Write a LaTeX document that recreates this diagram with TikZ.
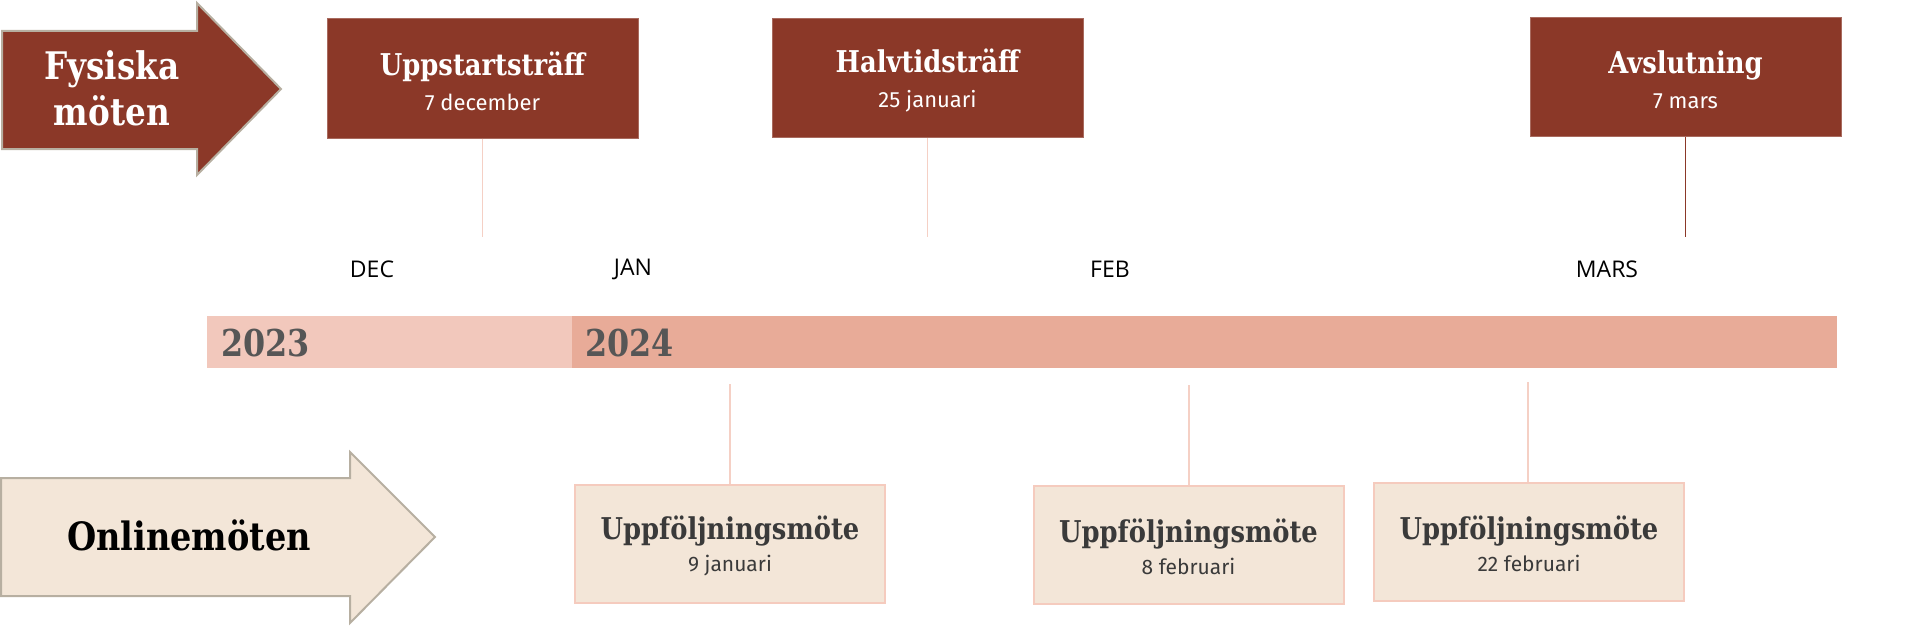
\documentclass[tikz,border=0pt]{standalone}
\usepackage{fontspec}
\setmainfont{Fira Sans}
\newfontfamily\slabfont[FakeStretch=0.86]{DejaVu Serif}
\newfontfamily\monthfont{Open Sans}
\usetikzlibrary{positioning,calc}

\definecolor{rust}{HTML}{8B3828}
\definecolor{blush}{HTML}{F5D0C5}
\definecolor{barold}{HTML}{F2C8BC}
\definecolor{barnew}{HTML}{E8AB98}
\definecolor{sand}{HTML}{F3E6D8}
\definecolor{sandedge}{HTML}{F5CBBE}
\definecolor{arrowedge}{HTML}{B7AFA1}
\definecolor{yeargrey}{HTML}{565656}
\definecolor{inkgrey}{HTML}{3A3A3A}

% title + date inside one box
\newcommand{\darklabel}[2]{{\slabfont\bfseries\fontsize{30}{34}\selectfont\rule{0pt}{29pt}#1}\\{#2}}
\newcommand{\lightlabel}[2]{{\slabfont\bfseries\fontsize{30}{34}\selectfont\rule{0pt}{28pt}#1}\\{#2}}

\tikzset{
  meet/.style={fill=rust,draw=rust!75!white,line width=1pt,minimum width=311pt,minimum height=119pt,
    inner sep=0pt,align=center,text=white,font=\fontsize{22}{35}\selectfont},
  followup/.style={fill=sand,draw=sandedge,line width=2pt,minimum width=310pt,minimum height=118pt,
    inner sep=0pt,align=center,text=inkgrey,font=\fontsize{21}{32}\selectfont},
  month/.style={font=\monthfont\fontsize{23}{26}\selectfont,inner sep=0pt},
  year/.style={font=\slabfont\bfseries\fontsize{37}{42}\selectfont,text=yeargrey,anchor=west,inner sep=0pt},
  stem/.style={blush,line width=1.5pt},
  bigarrow/.style={draw=arrowedge,line width=2pt,line join=miter}
}

\begin{document}
\begin{tikzpicture}[x=1pt,y=-1pt]
\useasboundingbox (0,0) rectangle (1920,626);

% block arrows
\filldraw[bigarrow,fill=rust] (2,31) -- (197,31) -- (197,3) -- (281,89) -- (197,175) -- (197,149) -- (2,149) -- cycle;
\node[text=white,align=center,font=\slabfont\bfseries\fontsize{38}{46}\selectfont] (fysiska) at (112,88) {Fysiska\\möten};
\filldraw[bigarrow,fill=sand] (1,478) -- (350,478) -- (350,452) -- (435,537) -- (350,623) -- (350,596) -- (1,596) -- cycle;
\node[text=black,font=\slabfont\bfseries\fontsize{39}{44}\selectfont] (online) at (189,535) {Onlinemöten};

% physical meetings
\node[meet] (b1) at (482.5,78.5) {\darklabel{Uppstartsträff}{7 december}};
\node[meet] (b2) at (927.5,78) {\darklabel{Halvtidsträff}{25 januari}};
\node[meet] (b3) at (1685.5,77) {\darklabel{Avslutning}{7 mars}};
\coordinate (t1) at (481,237);
\coordinate (t2) at (928,237);
\coordinate (t3) at (1686,237);
\draw[stem] (b1.south) -- (b1.south |- t1);
\draw[stem] (b2.south) -- (b2.south |- t2);
\draw[rust,line width=1.5pt] (b3.south) -- (b3.south |- t3);

% months
\node[month] (dec) at (372,269) {DEC};
\node[month] (jan) at (633,269) {JAN};
\node[month] (feb) at (1110,269) {FEB};
\node[month] (mars) at (1607,269) {MARS};

% year bar
\fill[barold] (207,316) rectangle (572,368);
\fill[barnew] (572,316) rectangle (1837,368);
\node[year] (y23) at (221,343) {2023};
\node[year] (y24) at (585,343) {2024};

% online meetings
\node[followup] (l1) at (730,543.5) {\lightlabel{Uppföljningsmöte}{9 januari}};
\node[followup] (l2) at (1188.5,545) {\lightlabel{Uppföljningsmöte}{8 februari}};
\node[followup] (l3) at (1529,542) {\lightlabel{Uppföljningsmöte}{22 februari}};
\coordinate (u1) at (730,384);
\coordinate (u2) at (1189,385);
\coordinate (u3) at (1528,382);
\draw[stem] (u1) -- (u1 |- l1.north);
\draw[stem] (u2) -- (u2 |- l2.north);
\draw[stem] (u3) -- (u3 |- l3.north);
\end{tikzpicture}
\end{document}
